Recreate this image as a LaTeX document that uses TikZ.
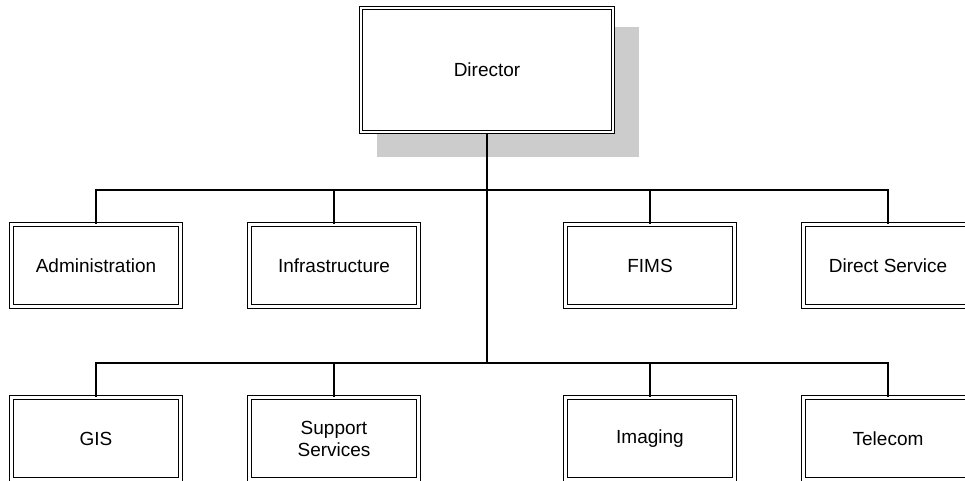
\documentclass[tikz,border=0pt]{standalone}
\usepackage{fontspec}
\setmainfont{Liberation Sans}
\usetikzlibrary{calc}
\begin{document}
\begin{tikzpicture}[x=1pt,y=-1pt,
  unitbox/.style={draw, double, line width=1.1pt, double distance=2.4pt, fill=white,
    inner sep=0pt, minimum width=169pt, minimum height=82pt, align=center,
    font=\fontsize{19}{22}\selectfont},
  conn/.style={line width=1.4pt},
  trunk/.style={line width=2.4pt}]
\useasboundingbox (0,0) rectangle (965,481);
\clip (0,0) rectangle (965,481);
\fill[white] (0,0) rectangle (965,481);
% director shadow
\fill[black!20] (377,27) rectangle (639,157);
% director
\node[unitbox, minimum width=252pt, minimum height=124pt] (dir) at (487,70) {Director};
% junctions
\coordinate (j1) at (487,190);
\coordinate (j2) at (487,363);
% row 1
\node[unitbox] (admin)  at (96,265.5)  {Administration};
\node[unitbox] (infra)  at (334,265.5) {Infrastructure};
\node[unitbox] (fims)   at (650,265.5) {FIMS};
\node[unitbox] (direct) at (888,265.5) {Direct Service};
% row 2
\node[unitbox] (gis)     at (96,438.5)  {GIS};
\node[unitbox] (support) at (334,438.5) {Support\\Services};
\node[unitbox] (imaging) at (650,438.5) {Imaging};
\node[unitbox] (telecom) at (888,438.5) {Telecom};
% connectors
\draw[trunk] (dir.south) -- (j2);
\foreach \n in {admin,infra,fims,direct} \draw[conn] (\n.north) |- (j1);
\foreach \n in {gis,support,imaging,telecom} \draw[conn] (\n.north) |- (j2);
\end{tikzpicture}
\end{document}
